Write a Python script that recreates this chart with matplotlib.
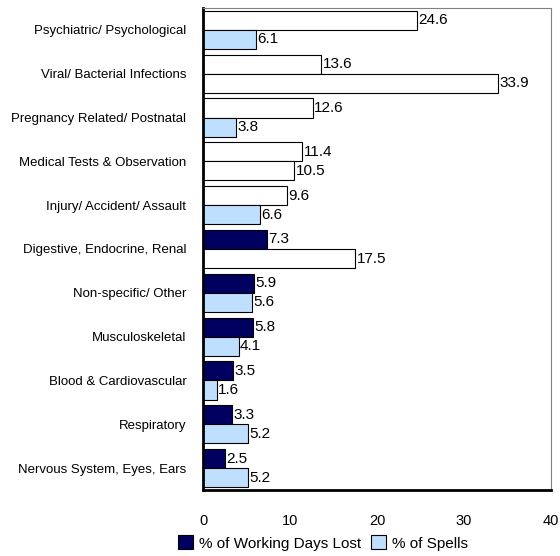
import numpy as np
import matplotlib
matplotlib.use("Agg")
import matplotlib.pyplot as plt
from matplotlib.patches import Patch

plt.rcParams['font.family'] = ['Liberation Sans', 'DejaVu Sans']

categories = ["Psychiatric/ Psychological", "Viral/ Bacterial Infections",
              "Pregnancy Related/ Postnatal", "Medical Tests & Observation",
              "Injury/ Accident/ Assault", "Digestive, Endocrine, Renal",
              "Non-specific/ Other", "Musculoskeletal", "Blood & Cardiovascular",
              "Respiratory", "Nervous System, Eyes, Ears"]
days_lost = [24.6, 13.6, 12.6, 11.4, 9.6, 7.3, 5.9, 5.8, 3.5, 3.3, 2.5]
spells = [6.1, 33.9, 3.8, 10.5, 6.6, 17.5, 5.6, 4.1, 1.6, 5.2, 5.2]

NAVY = "#000060"
LIGHT = "#BFDFFF"
# the source chart blanks out some bars (white fill)
days_colors = ["white"] * 5 + [NAVY] * 6
spell_colors = [LIGHT, "white", LIGHT, "white", LIGHT, "white",
                LIGHT, LIGHT, LIGHT, LIGHT, LIGHT]

fig = plt.figure(figsize=(5.6, 5.56), dpi=100)
ax = fig.add_axes([203 / 560, 1 - 490 / 556, 348 / 560, 482 / 556])

n = len(categories)
y = np.arange(n)[::-1]
h = 0.435

b1 = ax.barh(y + h / 2, days_lost, height=h, color=days_colors,
             edgecolor="black", linewidth=0.8)
b2 = ax.barh(y - h / 2, spells, height=h, color=spell_colors,
             edgecolor="black", linewidth=0.8)

for bars, vals in ((b1, days_lost), (b2, spells)):
    for bar, v in zip(bars, vals):
        ax.text(v + 0.15, bar.get_y() + bar.get_height() / 2, f"{v:.1f}",
                va="center", ha="left", fontsize=11)

ax.set_xlim(0, 40)
ax.set_ylim(-0.5, n - 0.5)
ax.set_xticks([0, 10, 20, 30, 40])
ax.set_yticks(y)
ax.set_yticklabels(categories, fontsize=9.5)
ax.tick_params(axis="x", length=0, pad=17, labelsize=10.5)
ax.tick_params(axis="y", length=0, pad=12)

ax.spines["left"].set_linewidth(2)
ax.spines["bottom"].set_linewidth(2)
ax.spines["top"].set_color("#808080")
ax.spines["right"].set_color("#808080")
ax.spines["top"].set_linewidth(0.8)
ax.spines["right"].set_linewidth(0.8)

handles = [Patch(facecolor=NAVY, edgecolor="black", linewidth=0.8),
           Patch(facecolor=LIGHT, edgecolor="black", linewidth=0.8)]
fig.legend(handles, ["% of Working Days Lost", "% of Spells"],
           loc="center", bbox_to_anchor=(323 / 560, 1 - 543 / 556),
           ncol=2, frameon=False, fontsize=11, handlelength=1.0,
           handleheight=1.0, handletextpad=0.4, columnspacing=0.6)

fig.savefig("out.png", dpi=100)
